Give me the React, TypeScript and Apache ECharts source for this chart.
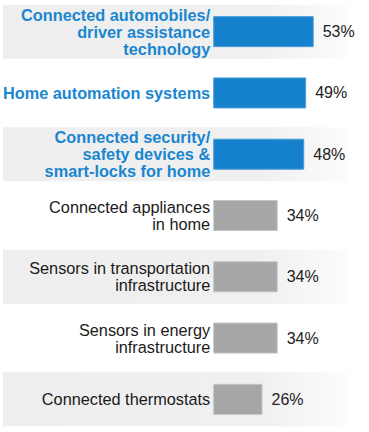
import React, { useEffect, useRef } from "react";
import * as echarts from "echarts";

const categories = [
  "Connected automobiles/\ndriver assistance\ntechnology",
  "Home automation systems",
  "Connected security/\nsafety devices &\nsmart-locks for home",
  "Connected appliances\nin home",
  "Sensors in transportation\ninfrastructure",
  "Sensors in energy\ninfrastructure",
  "Connected thermostats",
];
const values = [53, 49, 48, 34, 34, 34, 26];
const highlighted = [true, true, true, false, false, false, false];
const bandRows = [1, 0, 1, 0, 1, 0, 1];

const FONT = '"Liberation Sans", Arial, sans-serif';

export default function App() {
  const ref = useRef<HTMLDivElement>(null);
  useEffect(() => {
    document.body.style.margin = "0";
    const chart = echarts.init(ref.current!, null, { renderer: "svg" });
    const bandColor = new echarts.graphic.LinearGradient(0, 0, 1, 0, [
      { offset: 0, color: "#eeeeee" },
      { offset: 0.75, color: "#f0f0f0" },
      { offset: 1, color: "#fcfcfc" },
    ]);
    chart.setOption({
      animation: false,
      textStyle: { fontFamily: FONT },
      grid: [
        { left: 3, right: 21, top: 1, bottom: 2 },
        { left: 213, right: 42, top: 1, bottom: 2 },
      ],
      xAxis: [
        { gridIndex: 0, type: "value", min: 0, max: 1, show: false },
        { gridIndex: 1, type: "value", min: 0, max: 60, show: false },
      ],
      yAxis: [
        { gridIndex: 0, type: "category", data: categories, inverse: true, show: false },
        {
          gridIndex: 1,
          type: "category",
          data: categories,
          inverse: true,
          z: 10,
          axisLine: { show: false },
          axisTick: { show: false },
          axisLabel: {
            interval: 0,
            hideOverlap: false,
            margin: 3,
            align: "right",
            formatter: (v: string) => {
              const i = categories.indexOf(v);
              return highlighted[i] ? `{b|${v}}` : `{n|${v}}`;
            },
            rich: {
              b: {
                fontFamily: FONT,
                fontSize: 16.3,
                fontWeight: "bold",
                color: "#1a86d0",
                lineHeight: 17,
                align: "right",
              },
              n: {
                fontFamily: FONT,
                fontSize: 16.3,
                color: "#1a1a1a",
                lineHeight: 17,
                align: "right",
              },
            },
          },
        },
      ],
      series: [
        {
          type: "bar",
          xAxisIndex: 0,
          yAxisIndex: 0,
          silent: true,
          z: 0,
          barWidth: 54,
          data: bandRows.map((v) => (v ? 1 : "-")),
          itemStyle: { color: bandColor },
        },
        {
          type: "bar",
          xAxisIndex: 1,
          yAxisIndex: 1,
          barWidth: 31,
          data: values.map((v, i) => ({
            value: v,
            itemStyle: {
              color: highlighted[i] ? "#1580cc" : "#a6a6a6",
              borderColor: highlighted[i] ? "#4a9ed8" : "#c4c4c4",
              borderWidth: 1,
            },
          })),
          label: {
            show: true,
            position: "right",
            distance: 9,
            formatter: "{c}%",
            fontFamily: FONT,
            fontSize: 16,
            color: "#222222",
          },
        },
      ],
    });
    return () => chart.dispose();
  }, []);
  return <div ref={ref} style={{ width: 369, height: 432 }} />;
}
